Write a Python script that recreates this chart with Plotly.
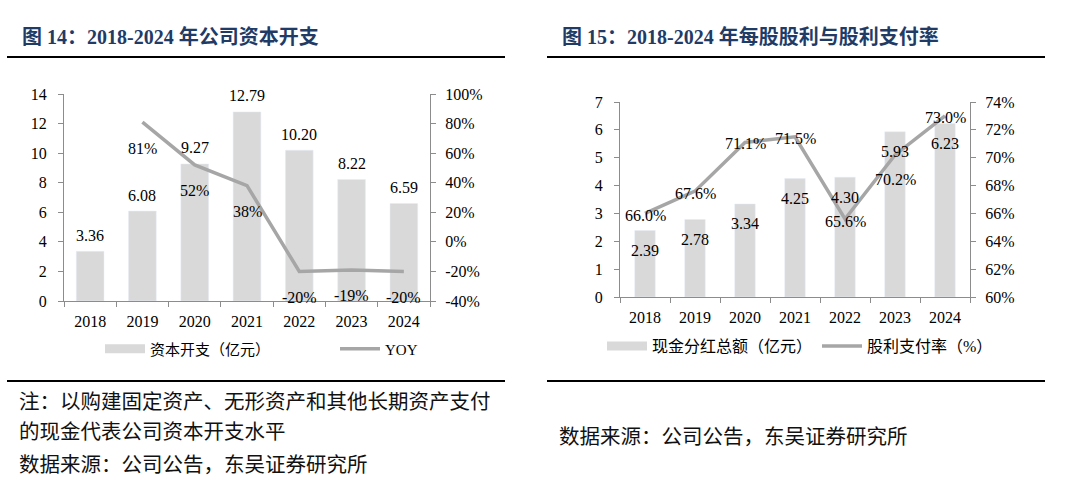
import plotly.graph_objects as go

# ---------------- data ----------------
years = ["2018", "2019", "2020", "2021", "2022", "2023", "2024"]
capex = [3.36, 6.08, 9.27, 12.79, 10.20, 8.22, 6.59]            # 亿元
capex_yoy = [None, 0.81, 0.52, 0.38, -0.20, -0.19, -0.20]
dividend = [2.39, 2.78, 3.34, 4.25, 4.30, 5.93, 6.23]           # 亿元
payout = [0.660, 0.676, 0.711, 0.715, 0.656, 0.702, 0.730]

capex_ticks = [0, 2, 4, 6, 8, 10, 12, 14]
yoy_ticks = [-0.4, -0.2, 0.0, 0.2, 0.4, 0.6, 0.8, 1.0]
div_ticks = [0, 1, 2, 3, 4, 5, 6, 7]
payout_ticks = [0.60, 0.62, 0.64, 0.66, 0.68, 0.70, 0.72, 0.74]

title_left = "图 14：2018-2024 年公司资本开支"
title_right = "图 15：2018-2024 年每股股利与股利支付率"
note_left = ["注：以购建固定资产、无形资产和其他长期资产支付",
             "的现金代表公司资本开支水平",
             "数据来源：公司公告，东吴证券研究所"]
note_right = "数据来源：公司公告，东吴证券研究所"

# ---------------- style ----------------
W, H = 1080, 478
FONT = 'Liberation Serif, "Noto Sans CJK SC", serif'
CJK = '"Noto Sans CJK SC", sans-serif'
BAR = "#d9d9d9"
LINE = "#a6a6a6"
AX = "#8c8c8c"
NAVY = "#1f3b66"
TF = dict(family=FONT, size=16, color="#000")


def px_x(v):
    return v / W


def px_y(v):
    return 1 - v / H


fig = go.Figure()

# left chart
fig.add_trace(go.Bar(x=years, y=capex, xaxis="x", yaxis="y", marker_color=BAR,
                     width=0.53, showlegend=False, hoverinfo="skip"))
fig.add_trace(go.Scatter(x=years, y=capex_yoy, xaxis="x", yaxis="y2", mode="lines",
                         line=dict(color=LINE, width=3.5), showlegend=False,
                         connectgaps=False, hoverinfo="skip"))
fig.add_trace(go.Scatter(x=[years[0]], y=[None], xaxis="x", yaxis="y", mode="lines",
                         line=dict(color=BAR, width=9), name="资本开支（亿元）",
                         legend="legend", hoverinfo="skip"))
fig.add_trace(go.Scatter(x=[years[0]], y=[None], xaxis="x", yaxis="y", mode="lines",
                         line=dict(color=LINE, width=3.5), name="YOY",
                         legend="legend", hoverinfo="skip"))

# right chart
fig.add_trace(go.Bar(x=years, y=dividend, xaxis="x2", yaxis="y3", marker_color=BAR,
                     width=0.41, showlegend=False, hoverinfo="skip"))
fig.add_trace(go.Scatter(x=years, y=payout, xaxis="x2", yaxis="y4", mode="lines",
                         line=dict(color=LINE, width=3.5), showlegend=False,
                         hoverinfo="skip"))
fig.add_trace(go.Scatter(x=[years[0]], y=[None], xaxis="x2", yaxis="y3", mode="lines",
                         line=dict(color=BAR, width=9), name="现金分红总额（亿元）",
                         legend="legend2", hoverinfo="skip"))
fig.add_trace(go.Scatter(x=[years[0]], y=[None], xaxis="x2", yaxis="y3", mode="lines",
                         line=dict(color=LINE, width=3.5), name="股利支付率（%）",
                         legend="legend2", hoverinfo="skip"))

annotations = []
# category axis: annotations placed by category index
for i, v in enumerate(capex):
    annotations.append(dict(x=i, y=v, xref="x", yref="y", text=f"{v:.2f}",
                            showarrow=False, yshift=16, font=TF))
for i, v in enumerate(capex_yoy):
    if v is None:
        continue
    annotations.append(dict(x=i, y=v, xref="x", yref="y2", text=f"{v*100:.0f}%",
                            showarrow=False, yshift=-26, font=TF))
for i, v in enumerate(dividend):
    annotations.append(dict(x=i, y=v, xref="x2", yref="y3", text=f"{v:.2f}",
                            showarrow=False, yshift=-20, font=TF))
payout_shift = [-2, -2, -1, -2, -3, -25, -2]
for i, (v, s) in enumerate(zip(payout, payout_shift)):
    annotations.append(dict(x=i, y=v, xref="x2", yref="y4", text=f"{v*100:.1f}%",
                            showarrow=False, yshift=s, font=TF))

# titles
annotations.append(dict(x=px_x(20), y=px_y(37), xref="paper", yref="paper",
                        xanchor="left", yanchor="middle", showarrow=False,
                        text=f"<b>{title_left}</b>",
                        font=dict(family=FONT, size=20, color=NAVY)))
annotations.append(dict(x=px_x(560), y=px_y(37), xref="paper", yref="paper",
                        xanchor="left", yanchor="middle", showarrow=False,
                        text=f"<b>{title_right}</b>",
                        font=dict(family=FONT, size=20, color=NAVY)))
# notes
for t, yy in zip(note_left, [400, 430, 463]):
    annotations.append(dict(x=px_x(17), y=px_y(yy), xref="paper", yref="paper",
                            xanchor="left", yanchor="middle", showarrow=False,
                            text=t, font=dict(family=CJK, size=20.5, color="#111")))
annotations.append(dict(x=px_x(557), y=px_y(435), xref="paper", yref="paper",
                        xanchor="left", yanchor="middle", showarrow=False,
                        text=note_right, font=dict(family=CJK, size=20.5, color="#111")))

shapes = []
for x0, x1 in [(7, 505), (547, 1045)]:
    for yy in [57, 381]:
        shapes.append(dict(type="line", xref="paper", yref="paper",
                           x0=px_x(x0), x1=px_x(x1), y0=px_y(yy), y1=px_y(yy),
                           line=dict(color="#000", width=2)))

axis_common = dict(showline=True, linecolor=AX, linewidth=1, ticks="outside",
                   tickcolor=AX, ticklen=5, showgrid=False, zeroline=False,
                   tickfont=TF, fixedrange=True, automargin=False)

fig.update_layout(
    width=W, height=H, margin=dict(l=0, r=0, t=0, b=0, autoexpand=False),
    paper_bgcolor="white", plot_bgcolor="white",
    font=dict(family=FONT, color="#000"),
    xaxis=dict(domain=[px_x(64), px_x(430)], anchor="y", type="category",
               categoryorder="array", categoryarray=years, range=[-0.5, 6.5],
               tickson="boundaries", tickangle=0, ticklabelstandoff=6,
               **axis_common),
    yaxis=dict(domain=[px_y(301), px_y(94)], anchor="x", range=[0, 14],
               tickvals=capex_ticks, ticktext=[str(t) for t in capex_ticks],
               ticklabelstandoff=8, **axis_common),
    yaxis2=dict(overlaying="y", side="right", anchor="x", range=[-0.4, 1.0],
                tickvals=yoy_ticks, ticktext=[f"{t:.0%}" for t in yoy_ticks],
                ticklabelstandoff=6, **axis_common),
    xaxis2=dict(domain=[px_x(620), px_x(970)], anchor="y3", type="category",
                categoryorder="array", categoryarray=years, range=[-0.5, 6.5],
                tickson="boundaries", tickangle=0, ticklabelstandoff=6,
                **axis_common),
    yaxis3=dict(domain=[px_y(297), px_y(102)], anchor="x2", range=[0, 7],
                tickvals=div_ticks, ticktext=[str(t) for t in div_ticks],
                ticklabelstandoff=8, **axis_common),
    yaxis4=dict(overlaying="y3", side="right", anchor="x2", range=[0.60, 0.74],
                tickvals=payout_ticks, ticktext=[f"{t:.0%}" for t in payout_ticks],
                ticklabelstandoff=6, **axis_common),
    legend=dict(orientation="h", x=px_x(100), y=px_y(349), xanchor="left",
                yanchor="middle", itemwidth=40, entrywidth=180,
                entrywidthmode="pixels", font=dict(family=FONT, size=15),
                bgcolor="rgba(0,0,0,0)"),
    legend2=dict(orientation="h", x=px_x(602), y=px_y(346), xanchor="left",
                 yanchor="middle", itemwidth=40, entrywidth=160,
                 entrywidthmode="pixels", font=dict(family=FONT, size=16),
                 bgcolor="rgba(0,0,0,0)"),
    annotations=annotations, shapes=shapes, bargap=0.4,
)

fig.write_html("out.html", config={"displayModeBar": False, "staticPlot": True},
               post_script="document.body.style.margin='0';"
                           "document.body.style.overflow='hidden';")
